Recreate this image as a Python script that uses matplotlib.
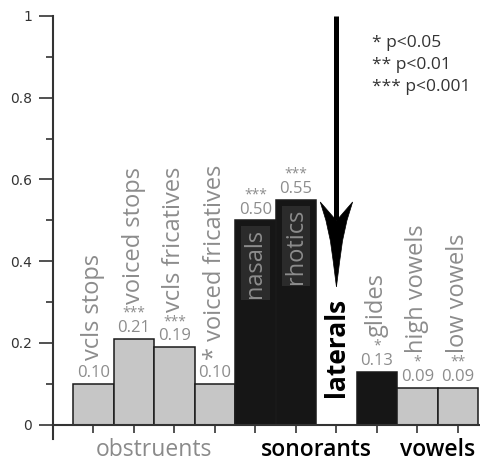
import matplotlib.pyplot as plt
from matplotlib.patches import Polygon
import numpy as np

plt.rcParams['font.family'] = ['Open Sans', 'DejaVu Sans']

categories = ['vcls stops', 'voiced stops', 'vcls fricatives', 'voiced fricatives',
              'nasals', 'rhotics', 'laterals', 'glides', 'high vowels', 'low vowels']
values = [0.10, 0.21, 0.19, 0.10, 0.50, 0.55, np.nan, 0.13, 0.09, 0.09]
stars = ['', '***', '***', '*', '***', '***', '', '*', '*', '**']
dark = [False, False, False, False, True, True, True, True, False, False]
groups = [('obstruents', 0, 3), ('sonorants', 4, 7), ('vowels', 8, 9)]
group_colors = ['#8a8a8a', 'black', 'black']
legend_lines = ['* p<0.05', '** p<0.01', '*** p<0.001']

gray_txt = '#8c8c8c'

fig = plt.figure(figsize=(4.81, 4.61), dpi=100)
ax = fig.add_axes([53 / 481, 22 / 461, 428 / 481, 423 / 461])

x = np.arange(len(categories))
heights = np.nan_to_num(values)
cols = ['#161616' if d else '#c6c6c6' for d in dark]
ax.bar(x, heights, width=1.0, color=cols, edgecolor='#1a1a1a', linewidth=1.1, zorder=2)

for i, (cat, v, s) in enumerate(zip(categories, values, stars)):
    if np.isnan(v):
        # empty slot: bold black label
        ax.annotate(cat, (i, 0), xytext=(0, 20), textcoords='offset points',
                    rotation=90, ha='center', va='bottom', fontsize=19,
                    fontweight='bold', color='black')
        continue
    ax.annotate(f'{v:.2f}', (i, v), xytext=(0, 2), textcoords='offset points',
                ha='center', va='bottom', fontsize=12, color=gray_txt)
    rotated_star = cat == 'voiced fricatives'
    if s and not rotated_star:
        ax.annotate(s, (i, v), xytext=(0, 13), textcoords='offset points',
                    ha='center', va='bottom', fontsize=10, color=gray_txt)
    if cat in ('nasals', 'rhotics'):
        ax.annotate(cat, (i, v), xytext=(0, -6), textcoords='offset points',
                    rotation=90, ha='center', va='top', fontsize=17, color=gray_txt,
                    bbox=dict(boxstyle='square,pad=0.1', fc='#2b2b2b', ec='none'))
        continue
    label = f'{s} {cat}' if rotated_star else cat
    off = 25 if (s and not rotated_star) else 17
    ax.annotate(label, (i, v), xytext=(0, off), textcoords='offset points',
                rotation=90, ha='center', va='bottom', fontsize=17, color=gray_txt)

# arrow pointing down at laterals
ai = categories.index('laterals')
ax.plot([ai, ai], [1.0, 0.5], color='black', lw=3.6, solid_capstyle='butt', zorder=3)
head = [(ai - 0.40, 0.545), (ai - 0.26, 0.50), (ai - 0.15, 0.45), (ai - 0.08, 0.40),
        (ai, 0.337), (ai + 0.08, 0.40), (ai + 0.15, 0.45), (ai + 0.26, 0.50),
        (ai + 0.40, 0.545), (ai + 0.05, 0.505), (ai, 0.50), (ai - 0.05, 0.505)]
ax.add_patch(Polygon(head, closed=True, fc='black', ec='black', lw=0.5, zorder=3))

for k, line in enumerate(legend_lines):
    ax.text(0.745, 0.935 - k * 0.052, line, transform=ax.transAxes, fontsize=12.5,
            color='#333333', ha='left', va='center')

for (name, a, b), c in zip(groups, group_colors):
    ax.text((a + b) / 2, -0.062, name, ha='center', va='center', fontsize=16.5,
            color=c, fontweight='semibold' if c == 'black' else 'normal', clip_on=False)

ax.set_xlim(-1.0, 9.57)
ax.set_ylim(-0.035, 1.0)
ax.spines['top'].set_visible(False)
ax.spines['right'].set_visible(False)
ax.spines['bottom'].set_position(('data', 0))
for sp in ('left', 'bottom'):
    ax.spines[sp].set_linewidth(1.5)
    ax.spines[sp].set_color('#333333')

ax.set_xticks(x)
ax.set_xticklabels([])
ax.tick_params(axis='x', direction='out', length=6, width=1.2, color='#333333')
ax.set_yticks([0, 0.2, 0.4, 0.6, 0.8, 1.0])
ax.set_yticklabels(['0', '0.2', '0.4', '0.6', '0.8', '1'])
ax.set_yticks([0.1, 0.3, 0.5, 0.7, 0.9], minor=True)
ax.tick_params(axis='y', which='major', length=10, width=1.2, color='#333333',
               labelsize=10, labelcolor='#333333', pad=5)
ax.tick_params(axis='y', which='minor', length=5, width=1.2, color='#333333')
for t in ax.get_yticklabels():
    t.set_family(['DejaVu Sans'])

fig.savefig('out.png', dpi=100)
